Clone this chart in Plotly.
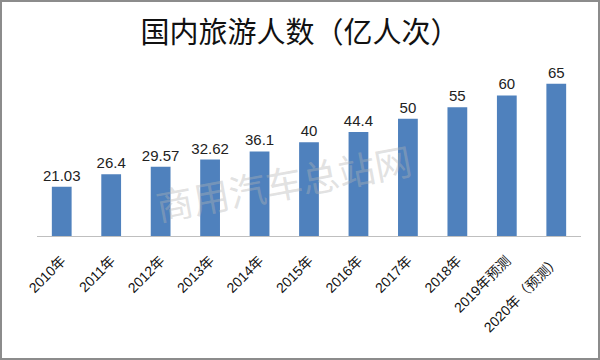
import plotly.graph_objects as go

categories = ["2010年", "2011年", "2012年", "2013年", "2014年", "2015年", "2016年",
              "2017年", "2018年", "2019年预测", "2020年（预测）"]
values = [21.03, 26.4, 29.57, 32.62, 36.1, 40, 44.4, 50, 55, 60, 65]
value_labels = ["21.03", "26.4", "29.57", "32.62", "36.1", "40", "44.4", "50", "55", "60", "65"]

W, H = 600, 360
ml, mr, mt, mb = 37, 19, 72, 124
pw, ph = W - ml - mr, H - mt - mb

fig = go.Figure(go.Bar(
    x=categories, y=values, text=value_labels, textposition="outside",
    constraintext="none",
    textfont=dict(family="Liberation Sans, Arial", size=15, color="#222222"),
    marker=dict(color="#4F81BD", line=dict(width=0)),
    cliponaxis=False, width=0.4,
))

fig.update_layout(
    width=W, height=H,
    margin=dict(l=ml, r=mr, t=mt, b=mb),
    paper_bgcolor="white", plot_bgcolor="white",
    showlegend=False,
    title=dict(text="国内旅游人数（亿人次）", x=0.5, xanchor="center", y=1 - 33 / H, yanchor="middle",
               font=dict(family="Noto Sans CJK SC", size=29, color="#111111")),
    xaxis=dict(tickangle=-45, showline=True, linecolor="#BFBFBF", linewidth=1,
               ticks="", showgrid=False, ticklabelstandoff=10,
               tickfont=dict(family="Liberation Sans, Noto Sans CJK SC", size=14, color="#111111")),
    yaxis=dict(range=[0, 70], visible=False, showgrid=False),
    annotations=[dict(text="商用汽车总站网", xref="paper", yref="paper",
                      x=(283 - ml) / pw, y=(H - mb - 182) / ph, showarrow=False,
                      xanchor="center", yanchor="middle",
                      textangle=-10.5,
                      font=dict(family="Noto Sans CJK SC", size=37, color="rgba(180,180,180,0.4)"))],
    shapes=[dict(type="rect", xref="paper", yref="paper",
                 x0=(1 - ml) / pw, x1=(W - 1 - ml) / pw,
                 y0=-(mb - 1) / ph, y1=(ph + mt - 1) / ph,
                 line=dict(color="#8C8C8C", width=2))],
)

fig.write_html("out.html", config={"displayModeBar": False},
               post_script="document.body.style.margin='0';document.body.style.overflow='hidden';")
